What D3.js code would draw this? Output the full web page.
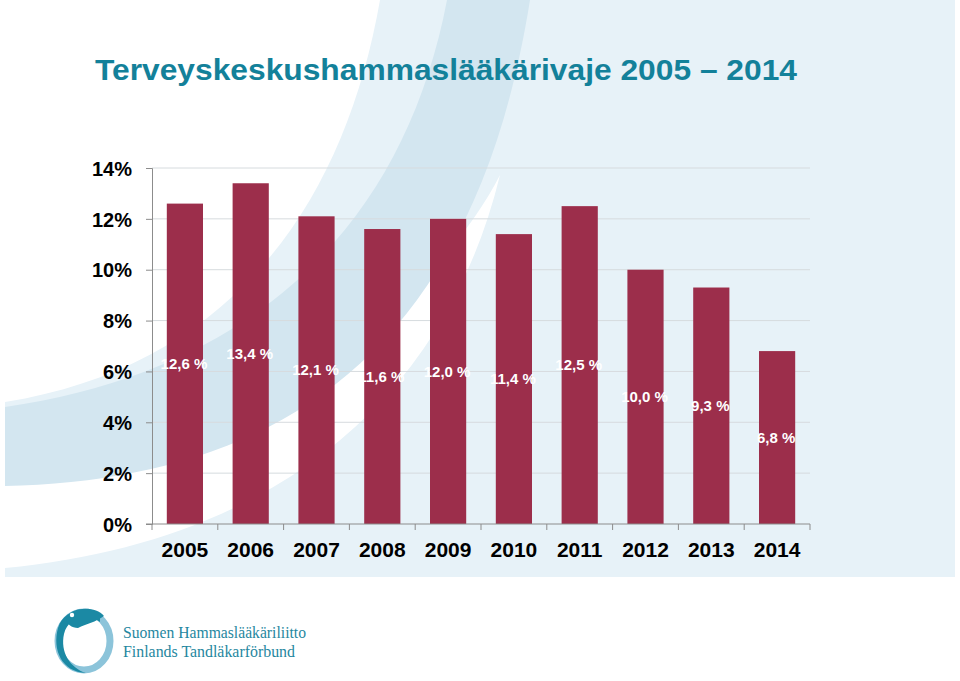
<!DOCTYPE html>
<html>
<head>
<meta charset="utf-8">
<script src="https://cdn.jsdelivr.net/npm/d3@7"></script>
<style>
  html, body { margin: 0; padding: 0; background: #ffffff; }
  svg { display: block; }
</style>
</head>
<body>
<svg id="chart" width="960" height="681"></svg>
<script>
const categories = ["2005","2006","2007","2008","2009","2010","2011","2012","2013","2014"];
const values = [12.6, 13.4, 12.1, 11.6, 12.0, 11.4, 12.5, 10.0, 9.3, 6.8];
const valueLabels = ["12,6 %","13,4 %","12,1 %","11,6 %","12,0 %","11,4 %","12,5 %","10,0 %","9,3 %","6,8 %"];
const yTicks = [0, 2, 4, 6, 8, 10, 12, 14];
const yTickLabels = ["0%","2%","4%","6%","8%","10%","12%","14%"];
const titleText = "Terveyskeskushammaslääkärivaje 2005 \u2013 2014";
const logoLines = ["Suomen Hammaslääkäriliitto", "Finlands Tandläkarförbund"];

const svg = d3.select("#chart");
const FONT = "'Liberation Sans', Arial, Helvetica, sans-serif";

// ---------- decorative background ----------
const bg = svg.append("g");
bg.append("rect").attr("x", 5).attr("y", 0).attr("width", 950).attr("height", 577).attr("fill", "#e7f2f8");
// white swoosh (lower)
bg.append("path")
  .attr("d", "M5,568 C 250,545 440,420 500,175 C 420,330 220,440 5,455 Z")
  .attr("fill", "#ffffff");
// dark band
bg.append("path")
  .attr("d", "M447,0 C 405,220 260,370 5,407 L5,486 C 250,480 470,380 530,0 Z")
  .attr("fill", "#d3e6f0");
// white top-left area
bg.append("path")
  .attr("d", "M0,0 L380,0 C 345,200 235,365 5,402 L0,402 Z")
  .attr("fill", "#ffffff");

// ---------- chart ----------
const x = d3.scaleBand().domain(categories).range([152, 810]).paddingInner(0.45).paddingOuter(0.225);
const xb = d3.scaleBand().domain(categories).range([152, 810]);
const y = d3.scaleLinear().domain([0, 14]).range([524, 168]);

// gridlines
svg.append("g").selectAll("line").data(yTicks.filter(d => d > 0)).join("line")
  .attr("x1", 152).attr("x2", 810)
  .attr("y1", d => y(d)).attr("y2", d => y(d))
  .attr("stroke", "#d6dbde").attr("stroke-width", 1);

// bars
svg.append("g").selectAll("rect").data(values).join("rect")
  .attr("x", (d, i) => x(categories[i]))
  .attr("width", x.bandwidth())
  .attr("y", d => y(d))
  .attr("height", d => y(0) - y(d))
  .attr("fill", "#9c2e4b");

// y axis
const yAxis = d3.axisLeft(y).tickValues(yTicks).tickSize(6).tickPadding(14)
  .tickFormat((d, i) => yTickLabels[i]);
const gy = svg.append("g").attr("transform", "translate(152,0)").call(yAxis);
gy.select(".domain").attr("stroke", "#8c8c8c");
gy.selectAll(".tick line").attr("stroke", "#8c8c8c");
gy.selectAll(".tick text").attr("font-family", FONT).attr("font-weight", "bold")
  .attr("font-size", 20).attr("fill", "#000").attr("dy", "0.36em");

// x axis baseline and ticks at band boundaries
svg.append("line").attr("x1", 146).attr("x2", 810).attr("y1", y(0)).attr("y2", y(0))
  .attr("stroke", "#8c8c8c");
svg.append("g").selectAll("line").data(categories.concat(["end"])).join("line")
  .attr("x1", (d, i) => i < categories.length ? xb(d) : 810)
  .attr("x2", (d, i) => i < categories.length ? xb(d) : 810)
  .attr("y1", y(0)).attr("y2", y(0) + 6)
  .attr("stroke", "#8c8c8c");
svg.append("g").selectAll("text").data(categories).join("text")
  .attr("x", d => xb(d) + xb.bandwidth() / 2)
  .attr("y", 557)
  .attr("text-anchor", "middle")
  .attr("font-family", FONT).attr("font-weight", "bold").attr("font-size", 21)
  .attr("fill", "#000")
  .text(d => d);

// value labels
svg.append("g").selectAll("text").data(values).join("text")
  .attr("x", (d, i) => x(categories[i]) + x.bandwidth() / 2 - 1)
  .attr("y", d => (y(d) + y(0)) / 2)
  .attr("dy", "0.35em")
  .attr("text-anchor", "middle")
  .attr("font-family", FONT).attr("font-weight", "bold").attr("font-size", 15)
  .attr("fill", "#ffffff")
  .text((d, i) => valueLabels[i]);

// title
svg.append("text")
  .attr("x", 95).attr("y", 80)
  .attr("font-family", FONT).attr("font-weight", "bold").attr("font-size", 30)
  .attr("fill", "#13819a")
  .attr("textLength", 702).attr("lengthAdjust", "spacingAndGlyphs")
  .text(titleText);

// ---------- logo ----------
const logo = svg.append("g");
logo.append("ellipse").attr("cx", 84).attr("cy", 641).attr("rx", 26).attr("ry", 29)
  .attr("fill", "none").attr("stroke", "#8cc4da").attr("stroke-width", 7);
logo.append("path")
  .attr("d", "M100,618 C 88,606 64,608 58,628 C 52,650 62,672 86,673 C 70,668 60,652 64,634 C 68,618 86,612 100,622 Z")
  .attr("fill", "#1b89a4");
logo.append("path")
  .attr("d", "M66,618 C 72,606 96,606 104,616 C 96,622 86,624 78,628 C 72,628 66,624 66,618 Z")
  .attr("fill", "#1b89a4");
logo.append("circle").attr("cx", 72).attr("cy", 615).attr("r", 2.2).attr("fill", "#ffffff");

svg.append("g").selectAll("text").data(logoLines).join("text")
  .attr("x", 123).attr("y", (d, i) => 638 + i * 19)
  .attr("font-family", "'Liberation Serif', 'DejaVu Serif', serif")
  .attr("font-size", 17)
  .attr("fill", "#1f87a0")
  .attr("textLength", (d, i) => i === 0 ? 183 : 172)
  .attr("lengthAdjust", "spacingAndGlyphs")
  .text(d => d);
</script>
</body>
</html>
